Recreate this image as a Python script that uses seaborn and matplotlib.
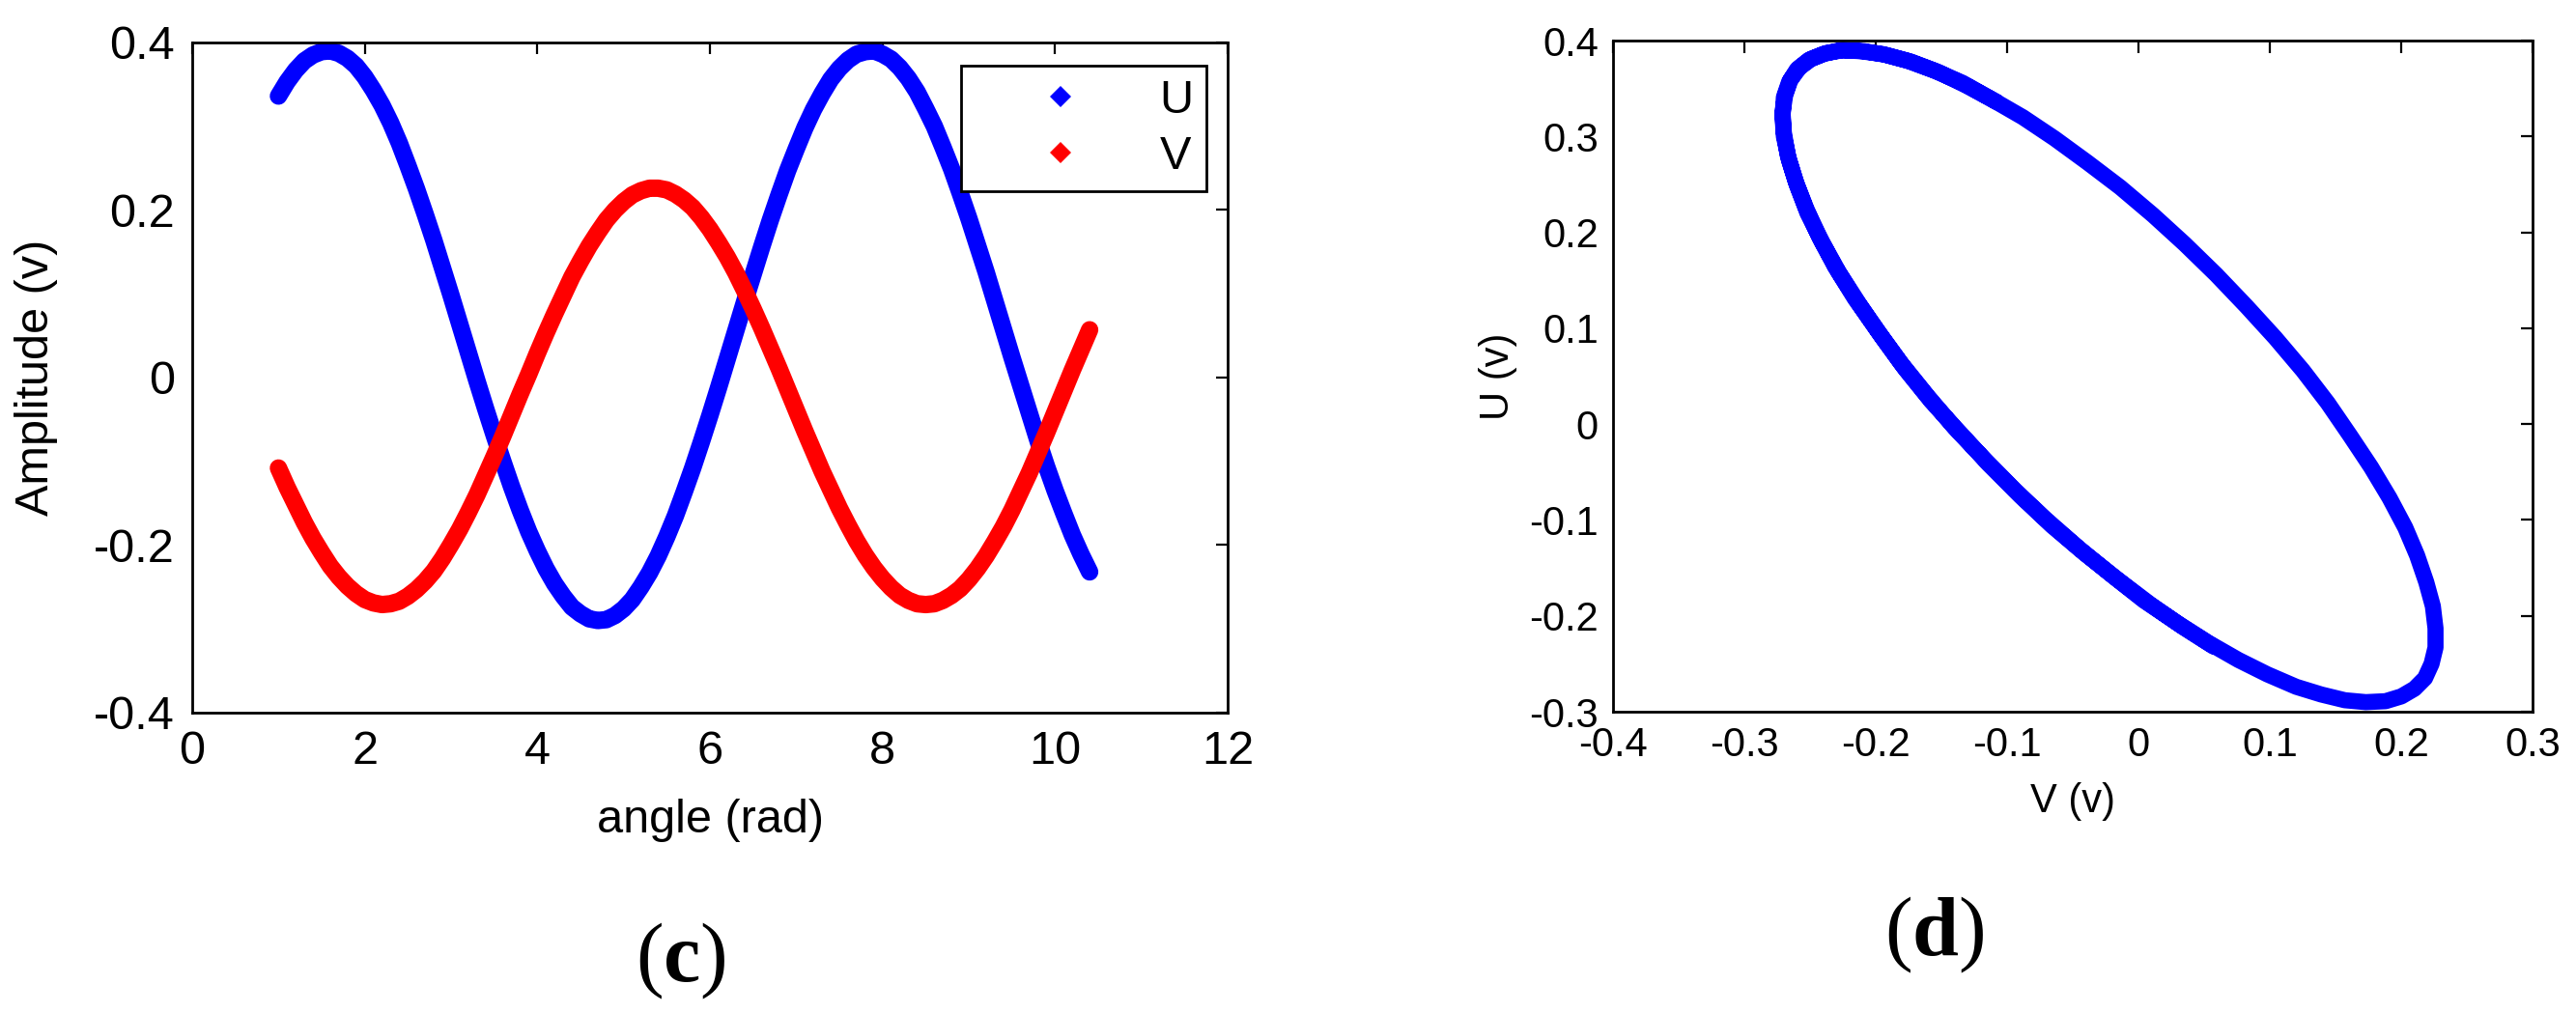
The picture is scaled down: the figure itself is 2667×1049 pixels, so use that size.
import numpy as np
import matplotlib
matplotlib.use("Agg")
import matplotlib.pyplot as plt
import seaborn as sns
from matplotlib.lines import Line2D
from matplotlib.ticker import FuncFormatter

angle = [1.0, 1.1, 1.2, 1.3, 1.4, 1.5, 1.6, 1.7, 1.8, 1.9,
         2.0, 2.1, 2.2, 2.3, 2.4, 2.5, 2.6, 2.7, 2.8, 2.9,
         3.0, 3.1, 3.2, 3.3, 3.4, 3.5, 3.6, 3.7, 3.8, 3.9,
         4.0, 4.1, 4.2, 4.3, 4.4, 4.5, 4.6, 4.7, 4.8, 4.9,
         5.0, 5.1, 5.2, 5.3, 5.4, 5.5, 5.6, 5.7, 5.8, 5.9,
         6.0, 6.1, 6.2, 6.3, 6.4, 6.5, 6.6, 6.7, 6.8, 6.9,
         7.0, 7.1, 7.2, 7.3, 7.4, 7.5, 7.6, 7.7, 7.8, 7.9,
         8.0, 8.1, 8.2, 8.3, 8.4, 8.5, 8.6, 8.7, 8.8, 8.9,
         9.0, 9.1, 9.2, 9.3, 9.4, 9.5, 9.6, 9.7, 9.8, 9.9,
         10.0, 10.1, 10.2, 10.3, 10.4]

u_vals = [0.336, 0.353, 0.367, 0.378, 0.385, 0.389, 0.390, 0.387, 0.381, 0.372,
          0.359, 0.343, 0.325, 0.304, 0.280, 0.253, 0.225, 0.195, 0.164, 0.131,
          0.098, 0.064, 0.030, -0.004, -0.037, -0.069, -0.100, -0.130, -0.158, -0.184,
          -0.207, -0.228, -0.246, -0.261, -0.274, -0.282, -0.288, -0.290, -0.289, -0.284,
          -0.276, -0.265, -0.250, -0.233, -0.213, -0.190, -0.165, -0.137, -0.108, -0.077,
          -0.045, -0.012, 0.022, 0.056, 0.090, 0.123, 0.156, 0.188, 0.218, 0.247,
          0.273, 0.298, 0.320, 0.339, 0.356, 0.369, 0.379, 0.386, 0.389, 0.390,
          0.386, 0.380, 0.370, 0.357, 0.341, 0.321, 0.300, 0.275, 0.249, 0.220,
          0.190, 0.158, 0.126, 0.092, 0.058, 0.024, -0.009, -0.042, -0.075, -0.106,
          -0.135, -0.162, -0.188, -0.211, -0.232]

v_vals = [-0.108, -0.131, -0.152, -0.173, -0.192, -0.209, -0.225, -0.238, -0.249, -0.258,
          -0.265, -0.269, -0.271, -0.270, -0.267, -0.261, -0.253, -0.243, -0.231, -0.216,
          -0.199, -0.181, -0.161, -0.140, -0.117, -0.094, -0.070, -0.045, -0.020, 0.004,
          0.029, 0.053, 0.076, 0.098, 0.120, 0.139, 0.157, 0.173, 0.188, 0.200,
          0.210, 0.218, 0.223, 0.226, 0.226, 0.224, 0.219, 0.212, 0.203, 0.191,
          0.177, 0.161, 0.144, 0.125, 0.104, 0.082, 0.059, 0.035, 0.011, -0.014,
          -0.039, -0.064, -0.088, -0.112, -0.134, -0.156, -0.176, -0.195, -0.212, -0.227,
          -0.240, -0.251, -0.260, -0.266, -0.270, -0.271, -0.270, -0.266, -0.260, -0.252,
          -0.241, -0.228, -0.213, -0.196, -0.178, -0.158, -0.136, -0.114, -0.090, -0.066,
          -0.041, -0.016, 0.009, 0.033, 0.057]

xticks_c = [0, 2, 4, 6, 8, 10, 12]
yticks_c = [-0.4, -0.2, 0, 0.2, 0.4]
xticks_d = [-0.4, -0.3, -0.2, -0.1, 0, 0.1, 0.2, 0.3]
yticks_d = [-0.3, -0.2, -0.1, 0, 0.1, 0.2, 0.3, 0.4]

sns.set_theme(style="white")
plt.rcParams['font.family'] = ['Liberation Sans Narrow', 'Liberation Sans', 'DejaVu Sans']
plt.rcParams['axes.unicode_minus'] = False
plt.rcParams['mathtext.fontset'] = 'custom'
plt.rcParams['mathtext.bf'] = 'Liberation Serif:bold'
plt.rcParams['mathtext.rm'] = 'Liberation Serif'
for key in ('text.color', 'axes.labelcolor', 'xtick.color', 'ytick.color'):
    plt.rcParams[key] = 'black'

fmt = FuncFormatter(lambda v, p: f"{round(v, 2):g}")

fig = plt.figure(figsize=(26.67, 10.49), dpi=100)
ax1 = fig.add_axes([0.0746, 0.2965, 0.4020, 0.6616])
ax2 = fig.add_axes([0.6262, 0.2974, 0.3570, 0.6625])

# (c) U und V über dem Winkel
sns.lineplot(x=angle, y=u_vals, sort=False, estimator=None, color='blue', lw=13, ax=ax1)
sns.lineplot(x=angle, y=v_vals, sort=False, estimator=None, color='red', lw=13, ax=ax1)
ax1.set_xlim(0, 12)
ax1.set_ylim(-0.4, 0.4)
ax1.set_xticks(xticks_c)
ax1.set_yticks(yticks_c)
ax1.set_xlabel('angle (rad)', fontsize=35)
ax1.set_ylabel('Amplitude (v)', fontsize=35)
ax1.xaxis.set_label_coords(0.5, -0.128)
ax1.yaxis.set_label_coords(-0.13, 0.5)
ax1.tick_params(labelsize=35, direction='in', length=8.6, width=1.6,
                top=True, right=True, pad=13)

handles = [Line2D([], [], ls='none', marker='D', ms=11, color='blue', mew=0),
           Line2D([], [], ls='none', marker='D', ms=11, color='red', mew=0)]
leg = ax1.legend(handles, ['U', 'V'], loc='upper right', bbox_to_anchor=(0.9795, 0.9654),
                 borderaxespad=0, fontsize=35, handlelength=3.7, handletextpad=0.25,
                 borderpad=0.28, labelspacing=0.27, fancybox=False, framealpha=1)
leg.get_frame().set_edgecolor('black')
leg.get_frame().set_linewidth(2)

# (d) U über V
sns.lineplot(x=v_vals, y=u_vals, sort=False, estimator=None, color='blue', lw=12, ax=ax2)
ax2.set_xlim(-0.4, 0.3)
ax2.set_ylim(-0.3, 0.4)
ax2.set_xticks(xticks_d)
ax2.set_yticks(yticks_d)
ax2.set_xlabel('V (v)', fontsize=30)
ax2.set_ylabel('U (v)', fontsize=30)
ax2.xaxis.set_label_coords(0.5, -0.105)
ax2.yaxis.set_label_coords(-0.104, 0.5)
ax2.tick_params(labelsize=30, direction='in', length=9, width=1.6,
                top=True, right=True, pad=11)

for ax in (ax1, ax2):
    ax.xaxis.set_major_formatter(fmt)
    ax.yaxis.set_major_formatter(fmt)
    for sp in ax.spines.values():
        sp.set_color('black')
        sp.set_linewidth(2)
        sp.set_visible(True)

fig.text(705 / 2667, 1 - 995 / 1049, r'($\mathbf{c}$)', fontsize=62,
         family='Liberation Serif', ha='center', va='center')
fig.text(2003 / 2667, 1 - 968 / 1049, r'($\mathbf{d}$)', fontsize=62,
         family='Liberation Serif', ha='center', va='center')

plt.savefig('out.png', dpi=100)
